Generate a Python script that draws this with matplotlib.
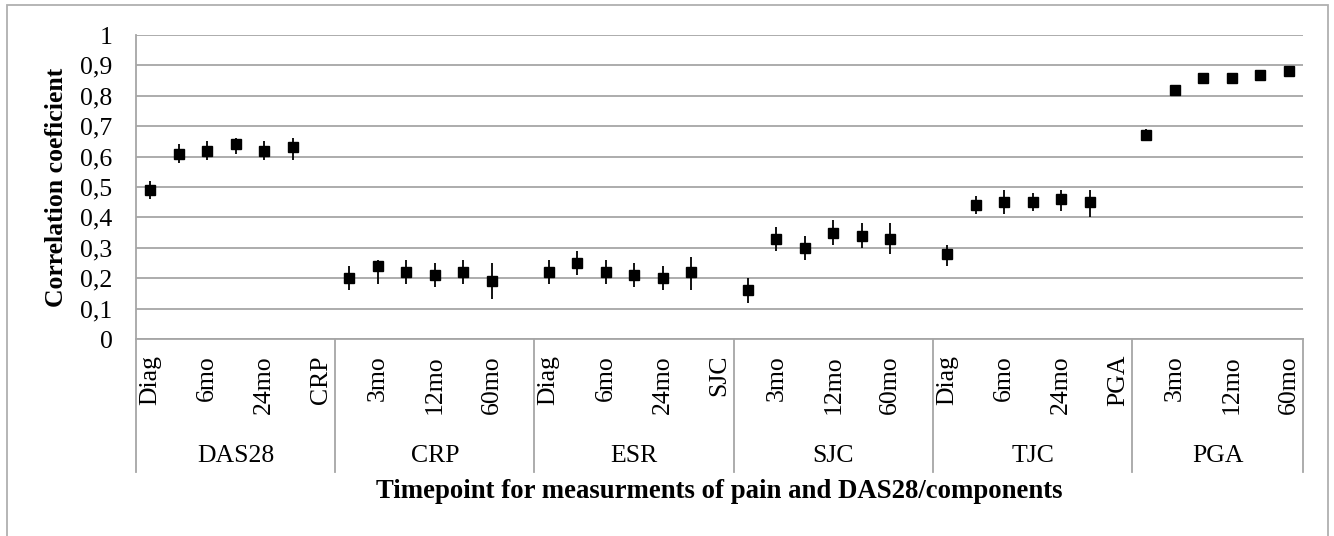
import matplotlib
matplotlib.use("Agg")
import matplotlib.pyplot as plt
from matplotlib.patches import Rectangle
import matplotlib.transforms as mtransforms

plt.rcParams['font.family'] = ['Liberation Serif', 'DejaVu Serif']

groups = ['DAS28', 'CRP', 'ESR', 'SJC', 'TJC', 'PGA']
timepoints = ['Diag', '3mo', '6mo', '12mo', '24mo', '60mo']

das28 = [0.49, 0.61, 0.62, 0.64, 0.62, 0.63]
das28_lo = [0.46, 0.58, 0.59, 0.61, 0.59, 0.59]
das28_hi = [0.52, 0.64, 0.65, 0.66, 0.65, 0.66]

crp = [0.20, 0.24, 0.22, 0.21, 0.22, 0.19]
crp_lo = [0.16, 0.18, 0.18, 0.17, 0.18, 0.13]
crp_hi = [0.24, 0.26, 0.26, 0.25, 0.26, 0.25]

esr = [0.22, 0.25, 0.22, 0.21, 0.20, 0.22]
esr_lo = [0.18, 0.21, 0.18, 0.17, 0.16, 0.16]
esr_hi = [0.26, 0.29, 0.26, 0.25, 0.24, 0.27]

sjc = [0.16, 0.33, 0.30, 0.35, 0.34, 0.33]
sjc_lo = [0.12, 0.29, 0.26, 0.31, 0.30, 0.28]
sjc_hi = [0.20, 0.37, 0.34, 0.39, 0.38, 0.38]

tjc = [0.28, 0.44, 0.45, 0.45, 0.46, 0.45]
tjc_lo = [0.24, 0.41, 0.41, 0.42, 0.42, 0.40]
tjc_hi = [0.31, 0.47, 0.49, 0.48, 0.49, 0.49]

pga = [0.67, 0.82, 0.86, 0.86, 0.87, 0.88]
pga_lo = [0.65, 0.815, 0.855, 0.855, 0.85, 0.875]
pga_hi = [0.69, 0.825, 0.865, 0.865, 0.875, 0.885]

yticks = [0, 0.1, 0.2, 0.3, 0.4, 0.5, 0.6, 0.7, 0.8, 0.9, 1]
ytick_labels = ['0', '0,1', '0,2', '0,3', '0,4', '0,5', '0,6', '0,7', '0,8', '0,9', '1']

series = [(das28, das28_lo, das28_hi), (crp, crp_lo, crp_hi), (esr, esr_lo, esr_hi),
          (sjc, sjc_lo, sjc_hi), (tjc, tjc_lo, tjc_hi), (pga, pga_lo, pga_hi)]

# Build category sequence (Excel quirk: next group's name appended to each block)
cat_labels = []
group_spans = []
xs_all, ys_all, lo_all, hi_all = [], [], [], []
for gi, (g, (v, lo, hi)) in enumerate(zip(groups, series)):
    start = len(cat_labels)
    for t, val, l, h in zip(timepoints, v, lo, hi):
        xs_all.append(len(cat_labels))
        ys_all.append(val)
        lo_all.append(val - l)
        hi_all.append(h - val)
        cat_labels.append(t)
    if gi < len(groups) - 1:
        cat_labels.append(groups[gi + 1])
    group_spans.append((start, len(cat_labels) - 1))

n = len(cat_labels)
W, H = 1334, 536
fig = plt.figure(figsize=(W / 100, H / 100), dpi=100)
ax = fig.add_axes([136 / W, 1 - 339 / H, (1303 - 136) / W, (339 - 35) / H])

grid_c = '#a6a6a6'
ax.set_xlim(-0.5, n - 0.5)
ax.set_ylim(0, 1)
ax.set_yticks(yticks)
ax.set_yticklabels(ytick_labels, fontsize=18.5)
ax.tick_params(axis='y', length=0, pad=17)
ax.set_xticks([])
ax.grid(axis='y', color=grid_c, linewidth=1.3)
ax.set_axisbelow(True)
for s in ['top', 'right']:
    ax.spines[s].set_visible(False)
for s in ['left', 'bottom']:
    ax.spines[s].set_color(grid_c)
    ax.spines[s].set_linewidth(1.3)

ax.errorbar(xs_all, ys_all, yerr=[lo_all, hi_all], fmt='s', color='black',
            markersize=6.8, elinewidth=1.3, capsize=0, zorder=3)

# Category labels (every other shown)
trans = mtransforms.blended_transform_factory(ax.transData, ax.transAxes)
y_lab = -(355 - 339) / (339 - 35)
for i, lab in enumerate(cat_labels):
    if i % 2 == 0:
        ax.text(i, y_lab, lab, rotation=90, ha='center', va='top', fontsize=18.5,
                transform=trans, clip_on=False)

# Group separators and group labels
y_sep_bot = -(472 - 339) / (339 - 35)
y_grp = -(456 - 339) / (339 - 35)
bounds = [-0.5] + [e + 0.5 for (_, e) in group_spans]
for b in bounds:
    ax.plot([b, b], [0, y_sep_bot], color=grid_c, linewidth=1.3, transform=trans,
            clip_on=False)
for g, (s, e) in zip(groups, group_spans):
    ax.text((s + e) / 2, y_grp, g, ha='center', va='center', fontsize=18.5,
            transform=trans, clip_on=False)

ax.text(0.5, -(492 - 339) / (339 - 35), 'Timepoint for measurments of pain and DAS28/components',
        transform=ax.transAxes, ha='center', va='center', fontsize=19.3, fontweight='bold')
fig.text(57 / W, 1 - 187 / H, 'Correlation coeficient', rotation=90,
         ha='center', va='center', fontsize=18.5, fontweight='bold')

# Outer chart border
fig.patches.append(Rectangle((7 / W, -0.05), (1328 - 7) / W, 1 - 5 / H + 0.05,
                             transform=fig.transFigure, fill=False,
                             edgecolor='#b0b0b0', linewidth=1.3))

fig.savefig('out.png', dpi=100)
